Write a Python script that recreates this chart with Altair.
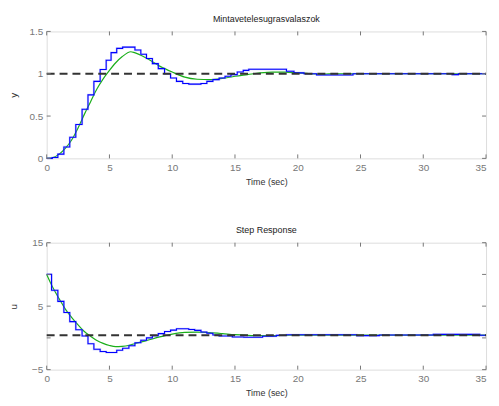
import altair as alt
import pandas as pd

FONT = "Liberation Sans"

# ---------------- data ----------------
# top panel: sampled (staircase) output y
y_step_t = [0, 0.45, 0.89, 1.37, 1.84, 2.32, 2.82, 3.29, 3.76, 4.26, 4.74, 5.13, 5.58, 6.05,
            7.03, 7.5, 7.95, 8.42, 8.89, 9.39, 9.87, 10.34, 10.84, 11.32, 12.29, 12.76, 13.24,
            13.74, 14.21, 14.68, 15.18, 15.66, 16.1, 19.1, 19.7, 20.5, 21.5, 24.4, 32.3, 32.8, 35]
y_step_v = [0.0, 0.01, 0.05, 0.135, 0.25, 0.40, 0.58, 0.75, 0.91, 1.05, 1.16, 1.25, 1.30, 1.315,
            1.28, 1.23, 1.18, 1.12, 1.06, 1.0, 0.95, 0.91, 0.885, 0.877, 0.885, 0.91, 0.93,
            0.95, 0.97, 0.99, 1.02, 1.04, 1.054, 1.03, 1.01, 1.0, 0.985, 1.0, 0.99, 1.0, 1.0]
# top panel: continuous output y
y_cont_t = [0, 0.5, 1, 1.5, 2, 2.5, 3, 3.5, 4, 4.5, 5, 5.5, 6, 6.7, 7, 8, 9, 10, 11, 12, 13,
            14, 15, 16, 17, 18, 19, 20, 21, 22, 23, 35]
y_cont_v = [0, 0.01, 0.05, 0.12, 0.22, 0.36, 0.52, 0.67, 0.82, 0.94, 1.04, 1.13, 1.2, 1.26, 1.25,
            1.18, 1.09, 1.02, 0.96, 0.935, 0.93, 0.945, 0.97, 0.99, 1.01, 1.02, 1.02, 1.01,
            1.0, 0.995, 1.0, 1.0]
y_ref = 1.0

# bottom panel: sampled control signal u
u_step_t = [0, 0.39, 0.89, 1.37, 1.84, 2.32, 2.82, 3.29, 3.76, 4.26, 4.74, 5.58, 6.05, 6.55,
            7.03, 7.5, 7.95, 8.42, 8.89, 9.39, 9.87, 10.34, 11.32, 11.79, 12.29, 12.76, 13.24,
            13.74, 14.79, 15.7, 17.2, 18.3, 19.1, 24.7, 26.5, 30.8, 34.5, 35]
u_step_v = [10, 7.5, 5.75, 4.0, 2.56, 1.28, 0.3, -0.92, -1.8, -2.15, -2.3, -1.95, -1.64, -1.23,
            -0.77, -0.36, 0.0, 0.36, 0.67, 1.0, 1.23, 1.44, 1.33, 1.18, 0.92, 0.72, 0.46,
            0.31, 0.15, 0.1, 0.26, 0.4, 0.5, 0.36, 0.46, 0.56, 0.41, 0.41]
# bottom panel: continuous control signal u
u_cont_t = [0, 0.5, 1, 1.5, 2, 2.5, 3, 3.5, 4, 4.5, 5, 5.5, 6, 6.5, 7, 8, 9, 10, 11, 12, 13,
            14, 15, 16, 17, 18, 19, 20, 35]
u_cont_v = [10, 7.9, 6.15, 4.5, 3.2, 2.05, 1.0, 0.26, -0.4, -0.87, -1.2, -1.38, -1.33, -1.2,
            -0.92, -0.4, 0.15, 0.6, 0.87, 0.92, 0.82, 0.67, 0.5, 0.4, 0.35, 0.35, 0.4, 0.45, 0.45]
u_ref = 0.42

x_ticks = [0, 5, 10, 15, 20, 25, 30, 35]
y_ticks_top = [0, 0.5, 1, 1.5]
y_ticks_bot = [-5, 0, 5, 10, 15]

titles = ["Mintavetelesugrasvalaszok", "Step Response"]
x_title = "Time (sec)"

W, H = 443, 128
BLUE = "#0000ff"
GREEN = "#1aae1a"
AXIS_GRAY = "#777777"


def panel(step_t, step_v, cont_t, cont_v, ref, ydom, yticks, ytitle, title):
    xs = alt.Scale(domain=[0, 35], nice=False, zero=False)
    ys = alt.Scale(domain=ydom, nice=False, zero=False)
    xaxis = alt.Axis(values=x_ticks, ticks=False, domain=False, grid=False, format="~g",
                     labelColor=AXIS_GRAY, labelFontSize=10, labelFont=FONT, labelPadding=4,
                     labelOverlap=False,
                     labelAlign=alt.ExprRef(expr="datum.value == 35 ? 'right' : 'center'"),
                     title=x_title, titleFontSize=9, titleFont=FONT, titleFontWeight="normal",
                     titleColor="#333333", titlePadding=5)
    yaxis = alt.Axis(values=yticks, ticks=False, domain=False, grid=False, format="~g",
                     labelColor=AXIS_GRAY, labelFontSize=10, labelFont=FONT, labelPadding=4,
                     labelOverlap=False,
                     title=ytitle, titleFontSize=10, titleFont=FONT, titleFontWeight="normal",
                     titleColor="#333333", titleX=-33, titleY=H / 2, titleAngle=-90,
                     titleBaseline="middle", titleAlign="center")

    sdf = pd.DataFrame({"t": step_t, "v": step_v})
    cdf = pd.DataFrame({"t": cont_t, "v": cont_v})
    xt = pd.DataFrame({"t": x_ticks})
    yt = pd.DataFrame({"v": yticks})

    green = alt.Chart(cdf).mark_line(color=GREEN, strokeWidth=1.2, interpolate="monotone").encode(
        x=alt.X("t:Q", scale=xs, axis=xaxis), y=alt.Y("v:Q", scale=ys, axis=yaxis))
    blue_shadow = alt.Chart(sdf).mark_line(color="#8080ff", strokeWidth=2.2, opacity=0.35,
                                           interpolate="step-after").encode(
        x=alt.X("t:Q", scale=xs), y=alt.Y("v:Q", scale=ys))
    blue = alt.Chart(sdf).mark_line(color=BLUE, strokeWidth=1.1, interpolate="step-after").encode(
        x=alt.X("t:Q", scale=xs), y=alt.Y("v:Q", scale=ys))
    dashed = alt.Chart(pd.DataFrame({"r": [ref]})).mark_rule(
        color="#333333", strokeWidth=2, strokeDash=[8, 5]).encode(
        y=alt.Y("r:Q", scale=ys), x=alt.value(0), x2=alt.value(W))
    tb = alt.Chart(xt).mark_rule(color=AXIS_GRAY).encode(
        x=alt.X("t:Q", scale=xs), y=alt.value(H), y2=alt.value(H - 4))
    tt = alt.Chart(xt).mark_rule(color=AXIS_GRAY).encode(
        x=alt.X("t:Q", scale=xs), y=alt.value(0), y2=alt.value(4))
    tl = alt.Chart(yt).mark_rule(color=AXIS_GRAY).encode(
        y=alt.Y("v:Q", scale=ys), x=alt.value(0), x2=alt.value(4))
    tr = alt.Chart(yt).mark_rule(color=AXIS_GRAY).encode(
        y=alt.Y("v:Q", scale=ys), x=alt.value(W), x2=alt.value(W - 4))

    return alt.layer(green, blue_shadow, blue, dashed, tb, tt, tl, tr).properties(
        width=W, height=H,
        title=alt.TitleParams(title, fontSize=9, font=FONT, fontWeight="normal",
                              color="#222222", anchor="middle", offset=3))


top = panel(y_step_t, y_step_v, y_cont_t, y_cont_v, y_ref, [0, 1.5], y_ticks_top, "y", titles[0])
bot = panel(u_step_t, u_step_v, u_cont_t, u_cont_v, u_ref, [-5, 15], y_ticks_bot, "u", titles[1])

chart = alt.vconcat(top, bot, spacing=38).properties(
    padding={"top": 4, "left": 0, "right": 0, "bottom": 0}).configure_view(
    stroke="#555555", strokeWidth=1).configure(background="white")

chart.save("out.html", embed_options={"renderer": "svg", "actions": False})
